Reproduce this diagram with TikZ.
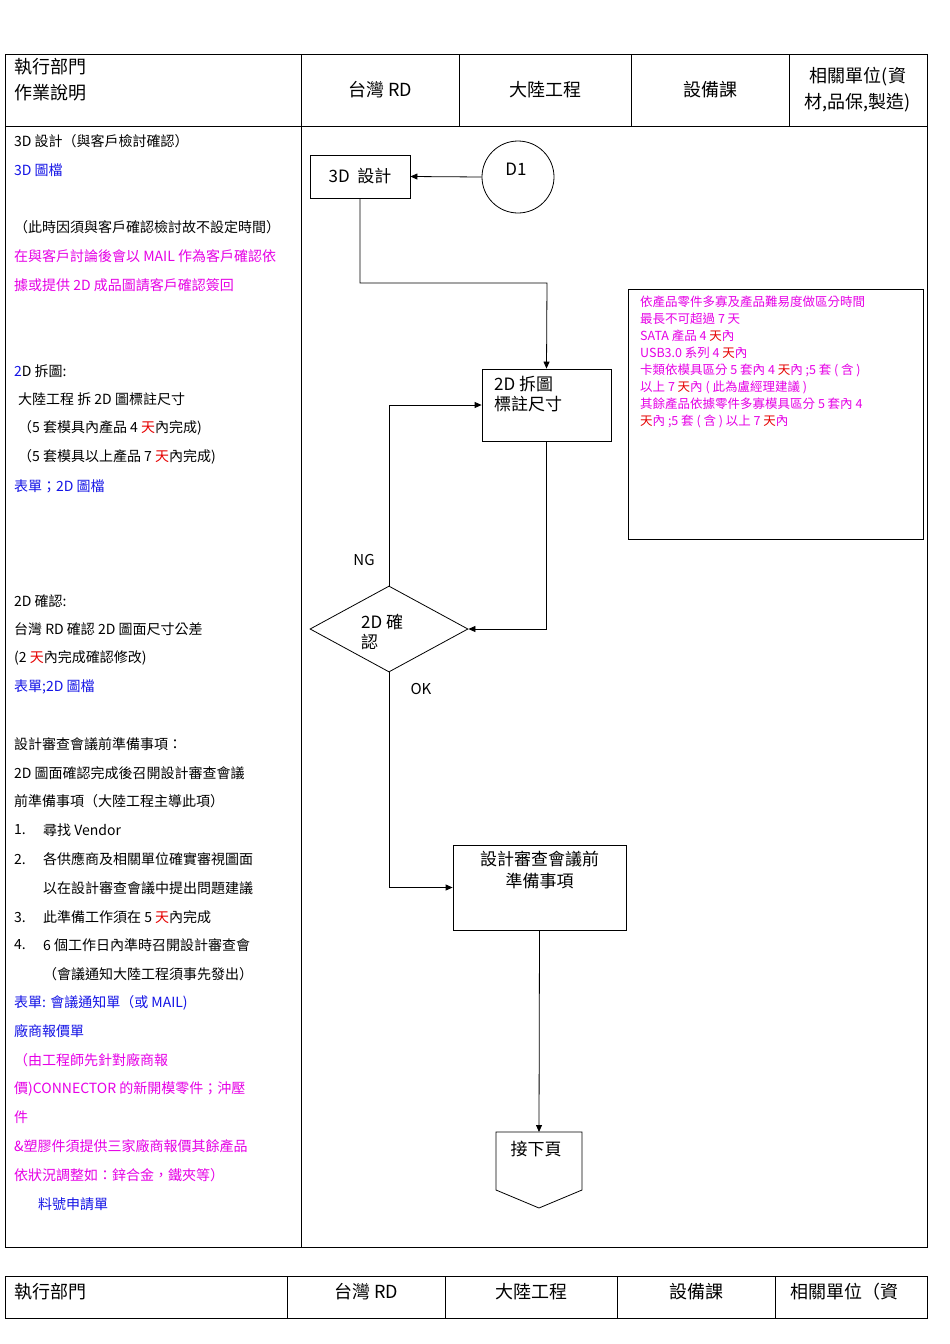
\documentclass[tikz,border=0pt]{standalone}
\usepackage{fontspec}
\setmainfont{Noto Sans CJK TC}
\usetikzlibrary{shapes.geometric,arrows.meta}
\definecolor{mblue}{RGB}{20,20,230}
\definecolor{mmag}{RGB}{230,0,230}
\definecolor{mred}{RGB}{230,0,0}
\newcommand{\rt}{\textcolor{mred}{天}}
\tikzset{
 line/.style={draw=black,line width=0.6pt},
 txt/.style={anchor=west,inner sep=0pt,font=\fontsize{14}{16}\selectfont},
 hdr/.style={inner sep=0pt,font=\fontsize{18}{26}\selectfont,align=center},
 boxn/.style={draw,line width=0.8pt,inner sep=0pt},
 arr/.style={line width=0.8pt,-{Triangle[length=7pt,width=6pt]}},
}
\begin{document}
\begin{tikzpicture}[x=1pt,y=-1pt]
\useasboundingbox (0,0) rectangle (950,1344);
\fill[white] (0,0) rectangle (950,1344);
% header table
\draw[line] (5,54) rectangle (927,1247);
\draw[line] (5,126) -- (927,126);
\foreach \x in {459,631,789} \draw[line] (\x,54) -- (\x,126);
\draw[line] (301,54) -- (301,1247);
\node[hdr,anchor=north west,align=left] (h0) at (14,58) {執行部門\\作業說明};
\node[hdr] (h1) at (380,90) {台灣 RD};
\node[hdr] (h2) at (545,90) {大陸工程};
\node[hdr] (h3) at (710,90) {設備課};
\node[hdr] (h4) at (858,90) {相關單位(資\\材,品保,製造)};
% second header
\draw[line] (5,1318) -- (5,1276) -- (927,1276) -- (927,1318) -- (5,1318);
\foreach \x in {287,445,617,775} \draw[line] (\x,1276) -- (\x,1318);
\node[hdr,anchor=west] (g0) at (14,1292) {執行部門};
\node[hdr] (g1) at (366,1292) {台灣 RD};
\node[hdr] (g2) at (531,1292) {大陸工程};
\node[hdr] (g3) at (696,1292) {設備課};
\node[hdr,anchor=west] (g4) at (790,1292) {相關單位（資};
% left text
\node[txt] (t1) at (14,141) {3D 設計（與客戶檢討確認）};
\node[txt,text=mblue] (t2) at (14,170) {3D 圖檔};
\node[txt] (t3) at (14,227) {（此時因須與客戶確認檢討故不設定時間）};
\node[txt,text=mmag] (t4) at (14,256) {在與客戶討論後會以 MAIL 作為客戶確認依};
\node[txt,text=mmag] (t5) at (14,285) {據或提供 2D 成品圖請客戶確認簽回};
\node[txt] (t6) at (14,371) {\textcolor{mblue}{2}D 拆圖:};
\node[txt] (t7) at (18,399) {大陸工程 拆 2D 圖標註尺寸};
\node[txt] (t8) at (18,428) {（5 套模具內產品 4 \rt 內完成)};
\node[txt] (t9) at (18,457) {（5 套模具以上產品 7 \rt 內完成)};
\node[txt,text=mblue] (t10) at (14,486) {表單；2D 圖檔};
\node[txt] (t11) at (14,601) {2D 確認:};
\node[txt] (t12) at (14,629) {台灣 RD 確認 2D 圖面尺寸公差};
\node[txt] (t13) at (14,658) {(2 \rt 內完成確認修改)};
\node[txt,text=mblue] (t14) at (14,687) {表單;2D 圖檔};
\node[txt] (t15) at (14,744) {設計審查會議前準備事項：};
\node[txt] (t16) at (14,773) {2D 圖面確認完成後召開設計審查會議};
\node[txt] (t17) at (14,801) {前準備事項（大陸工程主導此項）};
\node[txt] (t18) at (14,830) {1.};
\node[txt] (t18b) at (43,830) {尋找 Vendor};
\node[txt] (t19) at (14,859) {2.};
\node[txt] (t19b) at (43,859) {各供應商及相關單位確實審視圖面};
\node[txt] (t20) at (43,888) {以在設計審查會議中提出問題建議};
\node[txt] (t21) at (14,917) {3.};
\node[txt] (t21b) at (43,917) {此準備工作須在 5 \rt 內完成};
\node[txt] (t22) at (14,945) {4.};
\node[txt] (t22b) at (43,945) {6 個工作日內準時召開設計審查會};
\node[txt] (t23) at (43,974) {（會議通知大陸工程須事先發出）};
\node[txt,text=mblue] (t24) at (14,1003) {表單: 會議通知單（或 MAIL)};
\node[txt,text=mblue] (t25) at (14,1031) {廠商報價單};
\node[txt,text=mmag] (t26) at (14,1060) {（由工程師先針對廠商報};
\node[txt,text=mmag] (t27) at (14,1089) {價)CONNECTOR 的新開模零件；沖壓};
\node[txt,text=mmag] (t28) at (14,1117) {件};
\node[txt,text=mmag] (t29) at (14,1146) {\&塑膠件須提供三家廠商報價其餘產品};
\node[txt,text=mmag] (t30) at (14,1175) {依狀況調整如：鋅合金，鐵夾等）};
\node[txt,text=mblue] (t31) at (38,1204) {料號申請單};
% flow nodes
\node[boxn,minimum width=100pt,minimum height=43pt,font=\fontsize{17}{20}\selectfont] (d3) at (360,176.5) {3D\ \ 設計};
\node[draw,circle,line width=0.8pt,minimum size=72pt,inner sep=0pt] (d1) at (518,177) {};
\node[font=\fontsize{17}{20}\selectfont] (d1t) at (516,169) {D1};
\node[boxn,minimum width=129pt,minimum height=72pt] (d2) at (546.5,405) {};
\node[anchor=north west,inner sep=0pt,align=left,font=\fontsize{17}{20}\selectfont] (d2t) at (494,376) {2D 拆圖\\標註尺寸};
\node[draw,diamond,line width=0.8pt,minimum width=158pt,minimum height=86pt,inner sep=0pt,aspect=1.84] (dm) at (389,629) {};
\node[anchor=north west,inner sep=0pt,align=left,font=\fontsize{17}{20}\selectfont] (dmt) at (361,614) {2D 確\\認};
\node[boxn,minimum width=173pt,minimum height=85pt] (rv) at (539.5,887.5) {};
\node[anchor=north,inner sep=0pt,align=center,font=\fontsize{17}{22}\selectfont] (rvt) at (539.5,851) {設計審查會議前\\準備事項};
\coordinate (p1) at (496,1132);
\coordinate (p2) at (582,1132);
\coordinate (p3) at (582,1190);
\coordinate (p4) at (539,1208);
\coordinate (p5) at (496,1190);
\draw[line width=0.8pt] (p1) -- (p2) -- (p3) -- (p4) -- (p5) -- cycle;
\node[font=\fontsize{17}{20}\selectfont] (nx) at (536,1149) {接下頁};
\coordinate (top) at (539,1132);
% red-box note
\node[draw,line width=0.8pt,minimum width=295pt,minimum height=250pt,inner sep=0pt] (nb) at (775.5,414) {};
\node[anchor=north west,inner sep=0pt,align=left,text=mmag,font=\fontsize{12.5}{17}\selectfont] (nbt) at (640,296) {依產品零件多寡及產品難易度做區分時間\\最長不可超過 7 天\\SATA\ 產品\ 4 \rt 內\\USB3.0\ 系列\ 4 \rt 內\\卡類依模具區分 5 套內\ 4 \rt 內 ;5 套 ( 含 )\\以上\ 7\ \rt 內 ( 此為盧經理建議 )\\其餘產品依據零件多寡模具區分 5 套內\ 4\\\rt 內 ;5 套 ( 含 ) 以上\ 7 \rt 內};
% connectors
\draw[arr] (d1.west) -- (d3.east);
\draw[arr] (d3.south) |- (547,283) -- (d2.north);
\draw[arr] (d2.south) |- (dm.east);
\draw[arr] (dm.north) |- (d2.west);
\draw[arr] (dm.south) |- (rv.west);
\draw[arr] (rv.south) -- (top);
\node[font=\fontsize{15}{18}\selectfont] (ng) at (364,560) {NG};
\node[font=\fontsize{15}{18}\selectfont] (ok) at (421,689) {OK};
\end{tikzpicture}
\end{document}
